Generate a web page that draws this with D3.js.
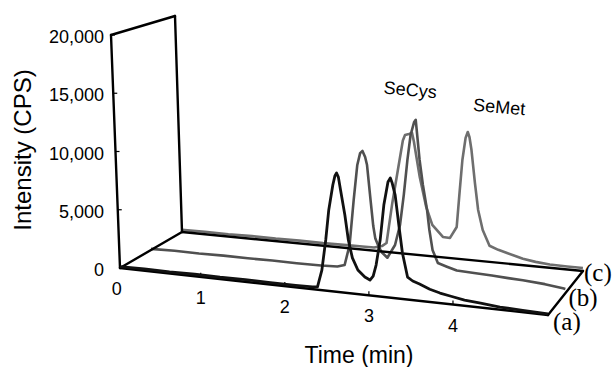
<!DOCTYPE html>
<html>
<head>
<meta charset="utf-8">
<script src="https://cdn.jsdelivr.net/npm/d3@7"></script>
<style>
  body { margin: 0; background: #fff; }
  svg { display: block; }
</style>
</head>
<body>
<svg id="chart" width="613" height="367"></svg>
<script>
// ---- data ----
const timeTicks = [0, 1, 2, 3, 4];
const intensityTicks = [0, 5000, 10000, 15000, 20000];
const seriesNames = ["(a)", "(b)", "(c)"];
const peakNames = ["SeCys", "SeMet"];

const timeA = [0.04, 0.33, 0.63, 0.93, 1.23, 1.53, 1.83, 2.13, 2.33, 2.39, 2.45, 2.51, 2.56, 2.62, 2.65, 2.67, 2.69, 2.71, 2.75, 2.78, 2.82, 2.88, 2.96, 3.02, 3.06, 3.10, 3.16, 3.22, 3.28, 3.31, 3.33, 3.36, 3.39, 3.42, 3.47, 3.53, 3.61, 3.73, 3.85, 3.98, 4.14, 4.33, 4.56, 4.83, 5.13];
const intensityA = [120, 160, 140, 170, 150, 180, 160, 170, 190, 250, 1730, 4360, 6980, 9170, 10000, 10240, 9900, 8820, 6700, 4570, 3070, 2080, 1540, 1330, 1700, 2680, 4870, 7920, 9950, 10320, 9900, 8890, 6340, 3970, 1940, 1650, 1450, 1100, 870, 700, 500, 380, 230, 160, 100];

const timeB = [0.04, 0.33, 0.63, 0.93, 1.23, 1.53, 1.83, 2.13, 2.33, 2.42, 2.49, 2.56, 2.62, 2.66, 2.69, 2.72, 2.74, 2.77, 2.79, 2.81, 2.84, 2.88, 2.95, 3.05, 3.12, 3.18, 3.24, 3.29, 3.34, 3.36, 3.39, 3.42, 3.46, 3.48, 3.51, 3.57, 3.68, 3.80, 3.99, 4.23, 4.43, 4.61, 4.88, 5.10, 5.13];
const intensityB = [100, 150, 130, 170, 160, 180, 170, 190, 250, 450, 2290, 6350, 9520, 10600, 10820, 10300, 9600, 6300, 4200, 3100, 2560, 1960, 1500, 2710, 4540, 7270, 10430, 12690, 13890, 14090, 10540, 8340, 6140, 4370, 2620, 1500, 1250, 1000, 950, 880, 800, 750, 600, 400, 350];

const timeC = [0.04, 0.33, 0.63, 0.93, 1.23, 1.53, 1.83, 2.13, 2.33, 2.48, 2.58, 2.64, 2.73, 2.84, 2.89, 2.92, 2.97, 3.01, 3.03, 3.09, 3.16, 3.23, 3.36, 3.45, 3.54, 3.59, 3.64, 3.69, 3.72, 3.74, 3.76, 3.79, 3.82, 3.87, 3.95, 4.06, 4.17, 4.37, 4.53, 4.71, 4.93, 5.13];
const intensityC = [200, 230, 210, 250, 230, 260, 240, 270, 280, 300, 500, 830, 4600, 8660, 10500, 11030, 11160, 11280, 10500, 7260, 4540, 2920, 1900, 1870, 2950, 6140, 9220, 11300, 11870, 11400, 10230, 7200, 4720, 2900, 1500, 1200, 990, 600, 420, 300, 280, 280];

// ---- projection of the slanted box ----
const svg = d3.select("#chart");
const sans = "'Liberation Sans', Arial, sans-serif";
const serif = "'Liberation Serif', 'Times New Roman', serif";

const tScale = d3.scaleLinear().domain([0.04, 5.13]).range([0, 1]);
const iScale = d3.scaleLinear().domain([0, 20000]).range([0, 1]);

// front plane (d = 0) and back plane (d = 1)
const front = { o: [120, 268], t: [428, 47], u: [-9, -233] };
const back = { o: [182, 232], t: [401, 39], u: [-7, -216] };

function proj(t, v, d) {
  const f = tScale(t), h = iScale(v);
  const xs = (k) => d3.interpolateNumber(front[k][0], back[k][0])(d);
  const ys = (k) => d3.interpolateNumber(front[k][1], back[k][1])(d);
  return [xs("o") + f * xs("t") + h * xs("u"), ys("o") + f * ys("t") + h * ys("u")];
}

const t0 = tScale.domain()[0], t1 = tScale.domain()[1], vTop = iScale.domain()[1];

const series = [
  { name: seriesNames[2], t: timeC, v: intensityC, d: 1, color: "#6e6e6e" },
  { name: seriesNames[1], t: timeB, v: intensityB, d: 0.5, color: "#505050" },
  { name: seriesNames[0], t: timeA, v: intensityA, d: 0, color: "#111" }
];

function tracePath(s) {
  const pts = s.t.map((t, i) => proj(t, s.v[i], s.d));
  return d3.line()(pts);
}

// back traces first
const gTraces = svg.append("g");
series.slice(0, 2).forEach(s => {
  gTraces.append("path")
    .attr("d", tracePath(s))
    .attr("fill", "none")
    .attr("stroke", s.color)
    .attr("stroke-width", 2.6)
    .attr("stroke-linejoin", "round");
});

// frame
const edges = [
  [[t0, 0, 0], [t0, vTop, 0]],
  [[t0, 0, 1], [t0, vTop, 1]],
  [[t0, vTop, 0], [t0, vTop, 1]],
  [[t0, 0, 0], [t1, 0, 0]],
  [[t0, 0, 1], [t1, 0, 1]],
  [[t0, 0, 0], [t0, 0, 1]],
  [[t1, 0, 0], [t1, 0, 1]]
];
const gFrame = svg.append("g");
edges.forEach(e => {
  const a = proj(...e[0]), b = proj(...e[1]);
  gFrame.append("line")
    .attr("x1", a[0]).attr("y1", a[1]).attr("x2", b[0]).attr("y2", b[1])
    .attr("stroke", "#000").attr("stroke-width", 2.4).attr("stroke-linecap", "round");
});

// front trace on top
const sA = series[2];
svg.append("path")
  .attr("d", tracePath(sA))
  .attr("fill", "none")
  .attr("stroke", sA.color)
  .attr("stroke-width", 2.8)
  .attr("stroke-linejoin", "round");

// time axis ticks and labels
timeTicks.forEach(t => {
  const p = proj(t, 0, 0);
  if (t > 0) {
    gFrame.append("line")
      .attr("x1", p[0]).attr("y1", p[1]).attr("x2", p[0]).attr("y2", p[1] - 4)
      .attr("stroke", "#000").attr("stroke-width", 1.2);
  }
  svg.append("text")
    .attr("x", p[0]).attr("y", p[1] + 27)
    .attr("text-anchor", "middle")
    .attr("font-family", sans).attr("font-size", 18)
    .text(t);
});

// intensity ticks and labels
const labelX = proj(t0, vTop, 0)[0] - 7;
const fmt = d3.format(",");
intensityTicks.forEach(v => {
  const p = proj(t0, v, 0);
  if (v > 0) {
    gFrame.append("line")
      .attr("x1", p[0]).attr("y1", p[1]).attr("x2", p[0] + 4).attr("y2", p[1])
      .attr("stroke", "#000").attr("stroke-width", 1.2);
  }
  svg.append("text")
    .attr("x", labelX).attr("y", p[1] + 8)
    .attr("text-anchor", "end")
    .attr("font-family", sans).attr("font-size", 18)
    .text(fmt(v));
});

// axis titles
svg.append("text")
  .attr("transform", "translate(31,150) rotate(-90)")
  .attr("text-anchor", "middle")
  .attr("font-family", sans).attr("font-size", 24)
  .text("Intensity (CPS)");

svg.append("text")
  .attr("x", 359).attr("y", 363)
  .attr("text-anchor", "middle")
  .attr("font-family", sans).attr("font-size", 23)
  .text("Time (min)");

// series labels at the right edge of the floor
series.forEach(s => {
  const p = proj(t1, 0, s.d);
  svg.append("text")
    .attr("x", p[0] + 5 - 4 * s.d).attr("y", p[1] + 15 - 5 * s.d)
    .attr("font-family", serif).attr("font-size", 25)
    .text(s.name);
});

// peak labels
const secysTop = proj(timeB[29], intensityB[29], 0.5);
const semetTop = proj(timeC[28], intensityC[28], 1);
[[peakNames[0], secysTop, -6, -24], [peakNames[1], semetTop, 31, -19]].forEach(([name, p, dx, dy]) => {
  svg.append("text")
    .attr("transform", `translate(${p[0] + dx},${p[1] + dy}) rotate(5)`)
    .attr("text-anchor", "middle")
    .attr("font-family", sans).attr("font-size", 18)
    .text(name);
});
</script>
</body>
</html>
